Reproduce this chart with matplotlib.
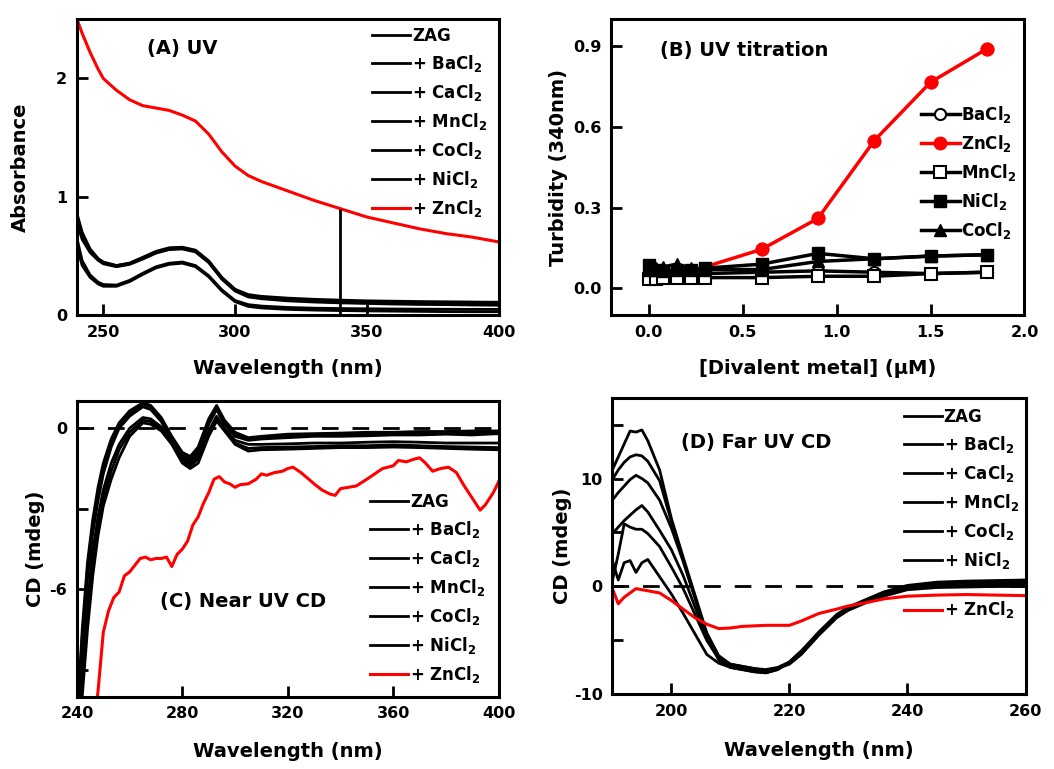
import numpy as np
import matplotlib.pyplot as plt

plt.rcParams['font.family'] = 'DejaVu Sans'
plt.rcParams['font.weight'] = 'bold'
plt.rcParams['mathtext.default'] = 'bf'
plt.rcParams['axes.unicode_minus'] = False

labels_uv = ['ZAG', '+ BaCl$_2$', '+ CaCl$_2$', '+ MnCl$_2$', '+ CoCl$_2$', '+ NiCl$_2$']
label_zn = '+ ZnCl$_2$'

# ---- (A) UV spectra
wl_a = [240, 242, 245, 248, 250, 255, 260, 265, 270, 275, 280, 285, 290, 295, 300,
        305, 310, 320, 330, 340, 350, 360, 370, 380, 390, 400]
uv_zn = [2.50, 2.38, 2.22, 2.08, 2.00, 1.90, 1.82, 1.77, 1.75, 1.73, 1.69, 1.64, 1.53, 1.38, 1.26,
         1.18, 1.13, 1.05, 0.97, 0.90, 0.83, 0.78, 0.73, 0.69, 0.66, 0.62]
uv_zag = [0.86, 0.70, 0.56, 0.48, 0.45, 0.42, 0.44, 0.49, 0.54, 0.57, 0.575, 0.55, 0.46, 0.32, 0.22,
          0.175, 0.16, 0.145, 0.135, 0.128, 0.122, 0.119, 0.116, 0.114, 0.112, 0.11]
uv_ba = [0.80, 0.66, 0.54, 0.47, 0.44, 0.415, 0.435, 0.48, 0.53, 0.56, 0.565, 0.54, 0.45, 0.31, 0.21,
         0.165, 0.15, 0.135, 0.125, 0.118, 0.113, 0.11, 0.107, 0.105, 0.103, 0.10]
uv_ca = [0.84, 0.68, 0.55, 0.475, 0.445, 0.42, 0.44, 0.485, 0.535, 0.565, 0.57, 0.545, 0.455, 0.315, 0.215,
         0.16, 0.145, 0.128, 0.118, 0.11, 0.105, 0.1, 0.097, 0.095, 0.093, 0.09]
uv_mn = [0.78, 0.64, 0.53, 0.465, 0.435, 0.41, 0.43, 0.475, 0.525, 0.555, 0.56, 0.535, 0.445, 0.305, 0.205,
         0.155, 0.14, 0.122, 0.112, 0.105, 0.1, 0.095, 0.092, 0.09, 0.087, 0.085]
uv_co = [0.65, 0.46, 0.34, 0.28, 0.26, 0.255, 0.295, 0.355, 0.41, 0.44, 0.45, 0.42, 0.335, 0.215, 0.125,
         0.09, 0.078, 0.066, 0.06, 0.057, 0.055, 0.053, 0.052, 0.051, 0.05, 0.05]
uv_ni = [0.58, 0.42, 0.32, 0.265, 0.245, 0.245, 0.285, 0.345, 0.40, 0.43, 0.44, 0.41, 0.325, 0.205, 0.115,
         0.075, 0.062, 0.05, 0.044, 0.04, 0.037, 0.035, 0.033, 0.031, 0.03, 0.03]
probe_wl = 340
probe_abs = 0.90

# ---- (B) turbidity titration
conc = [0.0, 0.04, 0.075, 0.15, 0.225, 0.3, 0.6, 0.9, 1.2, 1.5, 1.8]
turb_ba = [0.05, 0.05, 0.05, 0.05, 0.055, 0.055, 0.06, 0.065, 0.06, 0.055, 0.06]
turb_zn = [0.05, 0.05, 0.055, 0.055, 0.06, 0.08, 0.145, 0.26, 0.549, 0.766, 0.89]
turb_mn = [0.035, 0.035, 0.04, 0.04, 0.04, 0.04, 0.04, 0.045, 0.045, 0.055, 0.06]
turb_ni = [0.085, 0.07, 0.065, 0.07, 0.07, 0.075, 0.09, 0.13, 0.11, 0.12, 0.125]
turb_co = [0.07, 0.075, 0.08, 0.09, 0.075, 0.07, 0.07, 0.10, 0.11, 0.12, 0.125]

# ---- (C) near UV CD
wl_c = [240, 242, 244, 246, 248, 250, 253, 256, 260, 265, 268, 272, 276, 280, 283, 286, 290,
        293, 296, 300, 305, 310, 320, 330, 340, 350, 360, 370, 380, 390, 400]
cd_zag = [-11, -7.5, -5.0, -3.4, -2.2, -1.3, -0.4, 0.2, 0.65, 0.95, 0.85, 0.4, -0.3, -0.9, -1.05, -0.7, 0.35,
          0.85, 0.3, -0.15, -0.35, -0.3, -0.22, -0.2, -0.18, -0.15, -0.15, -0.12, -0.12, -0.1, -0.1]
cd_ba = [-11, -7.8, -5.2, -3.6, -2.4, -1.5, -0.55, 0.1, 0.55, 0.9, 0.8, 0.35, -0.4, -1.0, -1.15, -0.8, 0.25,
         0.75, 0.2, -0.25, -0.4, -0.35, -0.3, -0.25, -0.22, -0.2, -0.2, -0.18, -0.2, -0.18, -0.15]
cd_ca = [-11, -8.2, -5.6, -3.9, -2.7, -1.7, -0.7, 0.0, 0.45, 0.8, 0.7, 0.25, -0.45, -1.1, -1.25, -0.9, 0.15,
         0.7, 0.15, -0.3, -0.45, -0.4, -0.35, -0.3, -0.3, -0.28, -0.25, -0.25, -0.22, -0.25, -0.2]
cd_mn = [-11.5, -9.0, -6.5, -4.6, -3.3, -2.3, -1.3, -0.6, 0.0, 0.4, 0.35, 0.05, -0.5, -1.15, -1.3, -1.05, -0.1,
         0.45, 0.0, -0.45, -0.6, -0.6, -0.58, -0.55, -0.55, -0.52, -0.5, -0.52, -0.55, -0.55, -0.55]
cd_co = [-12, -9.5, -7.0, -5.0, -3.6, -2.6, -1.6, -0.8, -0.15, 0.3, 0.25, -0.05, -0.55, -1.2, -1.4, -1.15, -0.2,
         0.35, -0.05, -0.55, -0.75, -0.72, -0.7, -0.68, -0.65, -0.65, -0.62, -0.65, -0.68, -0.7, -0.72]
cd_ni = [-12, -10, -7.5, -5.5, -4.0, -2.9, -1.9, -1.1, -0.3, 0.2, 0.15, -0.1, -0.6, -1.3, -1.5, -1.3, -0.3,
         0.27, -0.1, -0.6, -0.85, -0.8, -0.78, -0.75, -0.72, -0.72, -0.7, -0.72, -0.75, -0.78, -0.8]
wl_c_zn = [246, 248, 250, 252, 254, 256, 258, 260, 262, 264, 266, 268, 270, 272, 274, 276, 278, 280,
           282, 284, 286, 288, 290, 292, 294, 296, 298, 300, 302, 305, 308, 310, 312, 315, 318, 320,
           322, 325, 328, 330, 333, 336, 338, 340, 343, 346, 350, 353, 356, 360, 362, 365, 368, 370,
           372, 375, 378, 381, 384, 387, 390, 393, 395, 398, 400]
cd_zn = [-11.5, -9.8, -7.6, -6.8, -6.3, -6.1, -5.5, -5.35, -5.1, -4.85, -4.8, -4.9, -4.85, -4.85, -4.8, -5.15, -4.7, -4.5,
         -4.2, -3.6, -3.3, -2.8, -2.4, -1.9, -1.8, -2.0, -2.07, -2.2, -2.1, -2.07, -1.9, -1.7, -1.75, -1.65, -1.6, -1.5,
         -1.45, -1.65, -1.9, -2.07, -2.3, -2.45, -2.5, -2.25, -2.2, -2.15, -1.9, -1.7, -1.5, -1.4, -1.2, -1.25, -1.15, -1.1,
         -1.27, -1.6, -1.5, -1.45, -1.65, -2.15, -2.6, -3.05, -2.85, -2.4, -2.0]

# ---- (D) far UV CD
wl_d = [190, 191, 192, 193, 194, 195, 196, 198, 200, 202, 204, 206, 208, 210, 212, 214, 216, 218,
        220, 222, 225, 228, 230, 233, 236, 240, 245, 250, 255, 260]
far_zag = [10.8, 12.0, 13.2, 14.4, 14.3, 14.5, 13.5, 10.8, 6.3, 2.7, -0.8, -4.3, -6.4, -7.2, -7.4, -7.6, -7.7, -7.5,
           -7.0, -6.0, -4.2, -2.6, -1.9, -1.2, -0.5, 0.1, 0.4, 0.5, 0.55, 0.6]
far_ba = [9.9, 10.8, 11.5, 12.0, 12.2, 12.1, 11.6, 9.8, 6.0, 2.5, -1.0, -4.5, -6.6, -7.3, -7.5, -7.8, -7.9, -7.6,
          -7.1, -6.1, -4.3, -2.7, -2.0, -1.3, -0.6, 0.0, 0.3, 0.4, 0.45, 0.5]
far_ca = [8.0, 8.7, 9.3, 9.9, 10.3, 10.0, 9.6, 8.0, 5.4, 2.3, -1.1, -4.6, -6.8, -7.5, -7.7, -7.9, -8.0, -7.7,
          -7.0, -6.0, -4.3, -2.7, -2.0, -1.3, -0.7, -0.1, 0.2, 0.3, 0.3, 0.3]
far_mn = [4.9, 5.5, 6.1, 6.6, 7.1, 7.5, 6.9, 5.2, 3.4, 1.0, -1.9, -4.8, -6.6, -7.2, -7.4, -7.6, -7.8, -7.6,
          -7.1, -6.2, -4.4, -2.8, -2.1, -1.4, -0.8, -0.2, 0.0, 0.1, 0.1, 0.1]
far_co = [0.5, 3.0, 5.8, 5.5, 5.3, 5.3, 4.9, 3.7, 1.8, -0.2, -2.6, -5.0, -6.7, -7.3, -7.5, -7.7, -7.9, -7.6,
          -7.2, -6.3, -4.5, -2.9, -2.2, -1.5, -0.9, -0.3, -0.1, -0.05, 0.0, 0.0]
far_ni = [2.4, 0.6, 2.2, 2.4, 1.3, 2.2, 2.5, 0.9, -0.7, -2.5, -4.4, -6.3, -7.1, -7.5, -7.7, -7.9, -8.0, -7.7,
          -7.0, -6.0, -4.3, -2.7, -2.0, -1.4, -0.8, -0.2, 0.0, 0.0, 0.05, 0.05]
far_zn = [-0.2, -1.6, -1.0, -0.6, -0.2, -0.3, -0.4, -0.6, -1.3, -2.1, -2.9, -3.5, -3.9, -3.85, -3.7, -3.65, -3.6, -3.6,
          -3.6, -3.2, -2.5, -2.1, -1.8, -1.5, -1.15, -0.9, -0.8, -0.75, -0.8, -0.85]

fig = plt.figure(figsize=(10.54, 7.69), dpi=100)
axA = fig.add_axes([0.073, 0.590, 0.400, 0.385])
axB = fig.add_axes([0.580, 0.590, 0.392, 0.385])
axC = fig.add_axes([0.073, 0.094, 0.400, 0.384])
axD = fig.add_axes([0.581, 0.097, 0.392, 0.386])

def style(ax):
    for s in ax.spines.values():
        s.set_linewidth(2.2)
    ax.tick_params(which='both', direction='in', length=8, width=2, labelsize=11.5, pad=7)
    for t in ax.get_xticklabels() + ax.get_yticklabels():
        t.set_fontweight('bold')

def leg(ax, handles, labels, anchor, spacing=0.48):
    l = ax.legend(handles, labels, loc='upper left', bbox_to_anchor=anchor, frameon=False,
                  fontsize=12, handlelength=2.3, handletextpad=0.1, labelspacing=spacing,
                  borderaxespad=0, borderpad=0)
    return l

dash = (0, (6, 5))

# A
lw = 2.0
hA = []
for y in [uv_zag, uv_ba, uv_ca, uv_mn, uv_co, uv_ni]:
    hA.append(axA.plot(wl_a, y, color='black', lw=lw)[0])
hA.append(axA.plot(wl_a, uv_zn, color='red', lw=2.2)[0])
axA.vlines(probe_wl, 0, probe_abs, color='black', lw=2)
axA.set_xlim(240, 400)
axA.set_ylim(0, 2.5)
axA.set_xticks([250, 300, 350, 400])
axA.set_yticks([0, 1, 2])
axA.set_xlabel('Wavelength (nm)', fontsize=14, fontweight='bold', labelpad=14)
axA.set_ylabel('Absorbance', fontsize=14, fontweight='bold', labelpad=19)
axA.text(0.166, 0.90, '(A) UV', transform=axA.transAxes, fontsize=14, fontweight='bold', va='center')
leg(axA, hA, labels_uv + [label_zn], (0.70, 0.975))
style(axA)

# B
ms = 8
hB = []
hB.append(axB.plot(conc, turb_ba, '-o', color='black', mfc='white', mew=1.5, ms=ms, lw=2.5)[0])
hB.append(axB.plot(conc[4:], turb_zn[4:], '-', color='red', lw=2.5)[0])
axB.plot(conc[6:], turb_zn[6:], 'o', color='red', ms=ms + 1)
hB.append(axB.plot(conc, turb_mn, '-s', color='black', mfc='white', mew=1.5, ms=ms, lw=2.5)[0])
hB.append(axB.plot(conc, turb_ni, '-s', color='black', ms=ms, lw=2.5)[0])
hB.append(axB.plot(conc, turb_co, '-^', color='black', ms=ms + 1, lw=2.5)[0])
hB[1].set_marker('o')
hB[1].set_markersize(ms + 1)
hB[1].set_markevery([2, 3, 4, 5, 6])
axB.set_xlim(-0.2, 2.0)
axB.set_ylim(-0.1, 1.0)
axB.set_xticks([0.0, 0.5, 1.0, 1.5, 2.0])
axB.set_yticks([0.0, 0.3, 0.6, 0.9])
axB.set_xlabel('[Divalent metal] (μM)', fontsize=14, fontweight='bold', labelpad=14)
axB.set_ylabel('Turbidity (340nm)', fontsize=14, fontweight='bold', labelpad=4)
axB.text(0.119, 0.895, '(B) UV titration', transform=axB.transAxes, fontsize=14, fontweight='bold', va='center')
leg(axB, hB, ['BaCl$_2$', 'ZnCl$_2$', 'MnCl$_2$', 'NiCl$_2$', 'CoCl$_2$'], (0.75, 0.715))
style(axB)

# C
axC.axhline(0, color='black', lw=2, ls=dash)
hC = []
for y in [cd_zag, cd_ba, cd_ca, cd_mn, cd_co, cd_ni]:
    hC.append(axC.plot(wl_c, y, color='black', lw=lw)[0])
hC.append(axC.plot(wl_c_zn, cd_zn, color='red', lw=2.2)[0])
axC.set_xlim(240, 400)
axC.set_ylim(-10, 1)
axC.set_xticks([240, 280, 320, 360, 400])
axC.set_yticks([0, -6])
axC.set_yticks([-3, -9], minor=True)
axC.set_xlabel('Wavelength (nm)', fontsize=14, fontweight='bold', labelpad=15)
axC.set_ylabel('CD (mdeg)', fontsize=14, fontweight='bold', labelpad=3)
axC.text(0.197, 0.322, '(C) Near UV CD', transform=axC.transAxes, fontsize=14, fontweight='bold', va='center')
leg(axC, hC, labels_uv + [label_zn], (0.695, 0.69))
style(axC)

# D
axD.axhline(0, color='black', lw=2, ls=dash)
hD = []
for y in [far_zag, far_ba, far_ca, far_mn, far_co, far_ni]:
    hD.append(axD.plot(wl_d, y, color='black', lw=lw)[0])
hz = axD.plot(wl_d, far_zn, color='red', lw=2.2)[0]
axD.set_xlim(190, 260)
axD.set_ylim(-10, 17.5)
axD.set_xticks([200, 220, 240, 260])
axD.set_yticks([-10, 0, 10])
axD.set_yticks([-5, 5, 15], minor=True)
axD.set_xlabel('Wavelength (nm)', fontsize=14, fontweight='bold', labelpad=16)
axD.set_ylabel('CD (mdeg)', fontsize=14, fontweight='bold', labelpad=1)
axD.text(0.165, 0.848, '(D) Far UV CD', transform=axD.transAxes, fontsize=14, fontweight='bold', va='center')
l1 = leg(axD, hD, labels_uv, (0.705, 0.965))
axD.add_artist(l1)
leg(axD, [hz], [label_zn], (0.705, 0.32))
style(axD)

fig.savefig('out.png', dpi=100)
